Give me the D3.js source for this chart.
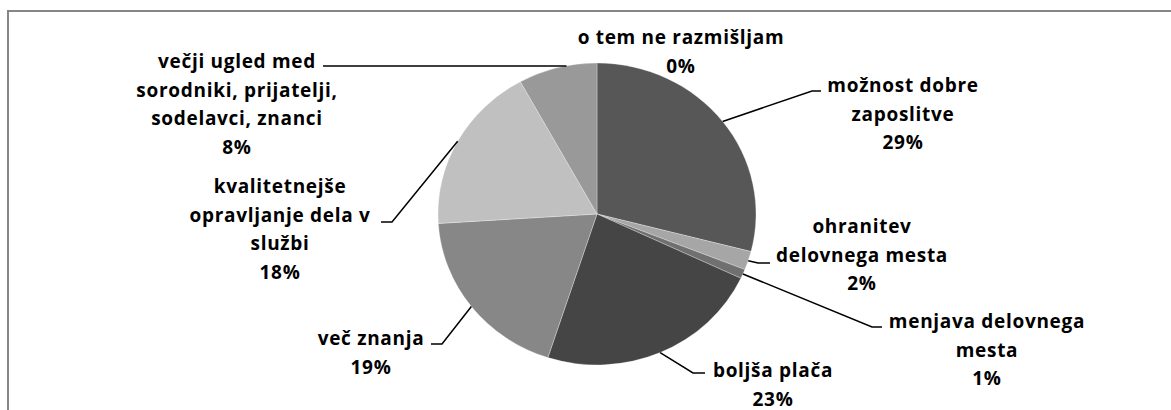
<!DOCTYPE html>
<html>
<head>
<meta charset="utf-8">
<script src="https://cdn.jsdelivr.net/npm/d3@7"></script>
<style>
  html, body { margin: 0; padding: 0; background: #fff; }
  svg { display: block; }
  .lbl { font-family: 'Open Sans', sans-serif; font-weight: 700; font-size: 19px; letter-spacing: 0.7px; fill: #000; }
</style>
</head>
<body>
<div id="chart"></div>
<script>
// Data
const categories = [
  'možnost dobre zaposlitve',
  'ohranitev delovnega mesta',
  'menjava delovnega mesta',
  'boljša plača',
  'več znanja',
  'kvalitetnejše opravljanje dela v službi',
  'večji ugled med sorodniki, prijatelji, sodelavci, znanci',
  'o tem ne razmišljam',
];
const values = [29, 2, 1, 23, 19, 18, 8, 0];
const labelLines = [
  ['možnost dobre', 'zaposlitve'],
  ['ohranitev', 'delovnega mesta'],
  ['menjava delovnega', 'mesta'],
  ['boljša plača'],
  ['več znanja'],
  ['kvalitetnejše', 'opravljanje dela v', 'službi'],
  ['večji ugled med', 'sorodniki, prijatelji,', 'sodelavci, znanci'],
  ['o tem ne razmišljam'],
];
const sliceColors = ['#575757', '#a6a6a6', '#707070', '#454545', '#878787', '#c0c0c0', '#999999', '#d9d9d9'];

// Label layout: centre x, first baseline, elbow points of the leader line
const labelPos = [
  { x: 903, y: 92, elbow: [[812, 91], [821, 91]] },
  { x: 862, y: 233, elbow: [[758, 263], [770, 263]] },
  { x: 987, y: 328, elbow: [[872, 327], [882, 327]] },
  { x: 773, y: 377, elbow: [[693, 373], [705, 373]] },
  { x: 371, y: 345, elbow: [[442, 344], [431, 344]] },
  { x: 280, y: 193, elbow: [[392, 222], [381, 222]] },
  { x: 237, y: 68, elbow: [[323, 66]] },
  { x: 681, y: 44, elbow: [] },
];

const width = 1171, height = 410;
const cx = 597, cy = 214, rx = 159, ry = 151;
const lineStep = 28.5;

const svg = d3.select('#chart').append('svg')
  .attr('width', width)
  .attr('height', height);

// Chart frame (cut off at right and bottom)
svg.append('rect')
  .attr('x', 8).attr('y', 11)
  .attr('width', 1300).attr('height', 600)
  .attr('fill', 'none')
  .attr('stroke', '#868686')
  .attr('stroke-width', 2);

const data = categories.map((c, i) => ({ name: c, value: values[i], lines: labelLines[i], pos: labelPos[i], color: sliceColors[i] }));

const pie = d3.pie().sort(null).value((d) => d.value);
const arcs = pie(data);
const arc = d3.arc().innerRadius(0).outerRadius(rx);

// Pie (slightly squashed vertically like the original)
const g = svg.append('g')
  .attr('transform', `translate(${cx}, ${cy}) scale(1, ${ry / rx})`);

g.selectAll('path')
  .data(arcs.filter((d) => d.value > 0))
  .join('path')
  .attr('d', arc)
  .attr('fill', (d) => d.data.color)
  .attr('stroke', '#ffffff')
  .attr('stroke-opacity', 0.5)
  .attr('stroke-width', 0.6);

// Leader lines: start on the pie rim
const edgePoint = (d) => {
  const el = d.data.pos.elbow;
  if (el.length === 1) {
    // single horizontal leader: meet the rim at the label's height
    const t = (cy - el[0][1]) / ry;
    const s = Math.sqrt(Math.max(0, 1 - t * t));
    const a = (d.startAngle + d.endAngle) / 2;
    return [cx + Math.sign(Math.sin(a)) * rx * s * 0.97, el[0][1]];
  }
  const a = (d.startAngle + d.endAngle) / 2;
  return [cx + rx * Math.sin(a), cy - ry * Math.cos(a)];
};

svg.selectAll('.leader')
  .data(arcs.filter((d) => d.data.pos.elbow.length))
  .join('path')
  .attr('class', 'leader')
  .attr('d', (d) => d3.line()([edgePoint(d), ...d.data.pos.elbow]))
  .attr('fill', 'none')
  .attr('stroke', '#000')
  .attr('stroke-width', 1.5);

// Labels
const labels = svg.selectAll('.lbl')
  .data(arcs)
  .join('text')
  .attr('class', 'lbl')
  .attr('text-anchor', 'middle');

labels.selectAll('tspan')
  .data((d) => [...d.data.lines, `${d.data.value}%`].map((t) => ({ t, p: d.data.pos })))
  .join('tspan')
  .attr('x', (d) => d.p.x)
  .attr('y', (d, i) => d.p.y + i * lineStep)
  .text((d) => d.t);
</script>
</body>
</html>
